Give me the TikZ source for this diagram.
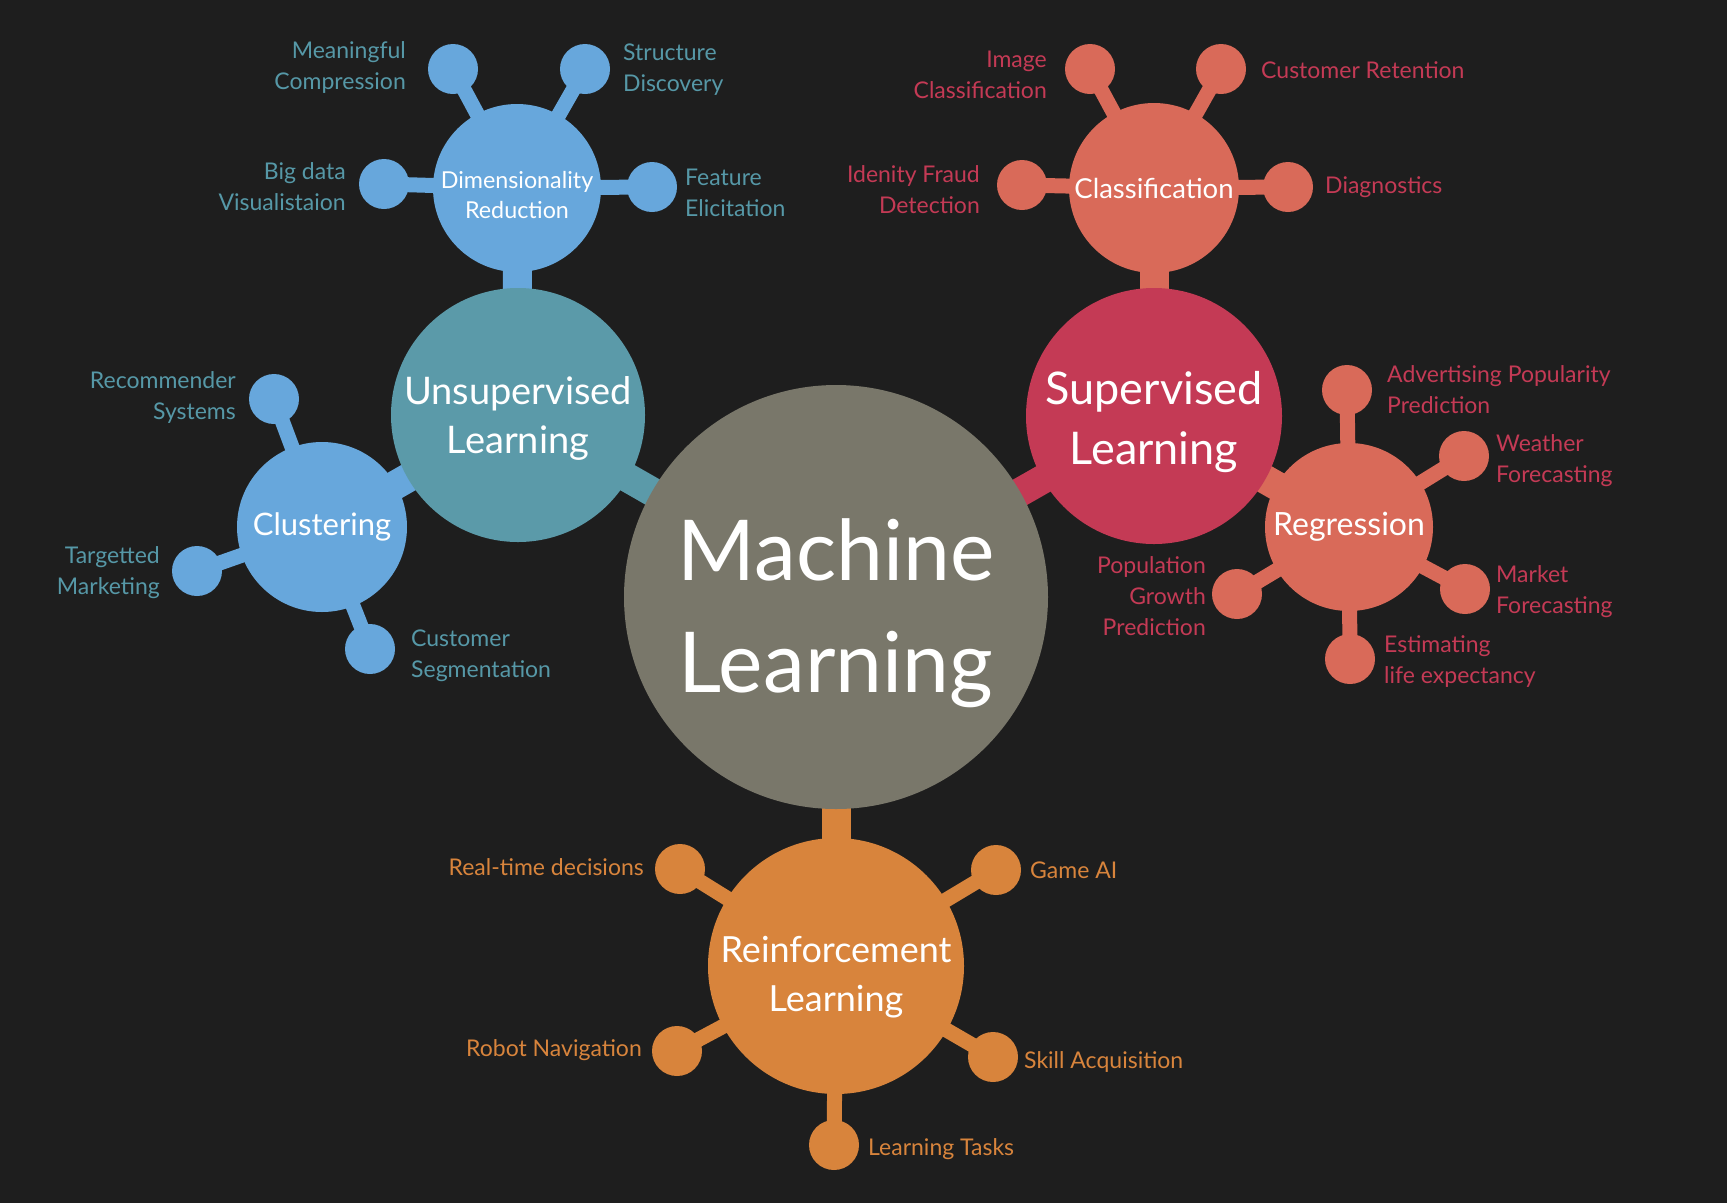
\documentclass[tikz,border=0pt]{standalone}
\usepackage{fontspec}
\setmainfont{Lato}
\pgfdeclarelayer{bglayer}
\pgfdeclarelayer{links}
\pgfsetlayers{bglayer,links,main}
\definecolor{bg}{RGB}{30,30,30}
\definecolor{mlgrey}{RGB}{121,119,106}
\definecolor{ulteal}{RGB}{91,154,169}
\definecolor{lblue}{RGB}{103,167,220}
\definecolor{tealtxt}{RGB}{86,152,167}
\definecolor{crimson}{RGB}{196,58,85}
\definecolor{salmon}{RGB}{217,106,89}
\definecolor{orange}{RGB}{216,132,60}
\tikzset{
  hub/.style={circle, inner sep=0pt, text=white, align=center},
  leaf/.style={circle, minimum size=50pt, inner sep=0pt},
  lbl/.style={inner sep=0pt, font=\fontsize{23}{31}\selectfont},
  lblR/.style={lbl, anchor=east, align=right},
  lblL/.style={lbl, anchor=west, align=left},
  bigstem/.style={line width=29pt},
  stem/.style={line width=15pt},
}
\begin{document}
\begin{tikzpicture}[x=1pt,y=-1pt]
\useasboundingbox (0,0) rectangle (1727,1203);
\begin{pgfonlayer}{bglayer}
\fill[bg] (0,0) rectangle (1727,1203);
\end{pgfonlayer}

% hubs
\node[hub, fill=mlgrey, minimum size=424pt, font=\fontsize{84}{112}\selectfont] (ml) at (836,597) {};
\node[text=white, align=center, inner sep=0pt, font=\fontsize{84}{112}\selectfont] (mlt) at (836,613) {Machine\\Learning};
\node[hub, fill=ulteal, minimum size=254pt] (ul) at (518,415) {};
\node[text=white, align=center, inner sep=0pt, font=\fontsize{38}{49}\selectfont] (ult) at (518,418) {Unsupervised\\Learning};
\node[hub, fill=crimson, minimum size=256pt] (sl) at (1154,416) {};
\node[text=white, align=center, inner sep=0pt, font=\fontsize{45}{59.5}\selectfont] (slt) at (1154,422) {Supervised\\Learning};
\node[hub, fill=orange, minimum size=256pt] (rl) at (836,966) {};
\node[text=white, align=center, inner sep=0pt, font=\fontsize{36}{49}\selectfont] (rlt) at (836,977) {Reinforcement\\Learning};
\node[hub, fill=lblue, minimum size=168pt] (dr) at (517,188) {};
\node[text=white, align=center, inner sep=0pt, font=\fontsize{23.3}{30}\selectfont] (drt) at (517,195) {Dimensionality\\Reduction};
\node[hub, fill=salmon, minimum size=170pt, font=\fontsize{27.5}{30}\selectfont] (cl) at (1154,188) {Classification};
\node[hub, fill=lblue, minimum size=170pt, font=\fontsize{31}{30}\selectfont] (cu) at (322,527) {Clustering};
\node[hub, fill=salmon, minimum size=168pt, font=\fontsize{32}{30}\selectfont] (rg) at (1349,527) {Regression};

% leaves: dimensionality reduction
\node[leaf, fill=lblue] (dr1) at (453,69) {};
\node[leaf, fill=lblue] (dr2) at (585,69) {};
\node[leaf, fill=lblue] (dr3) at (384,184) {};
\node[leaf, fill=lblue] (dr4) at (652,187) {};
% classification
\node[leaf, fill=salmon] (cl1) at (1090,69) {};
\node[leaf, fill=salmon] (cl2) at (1221,69) {};
\node[leaf, fill=salmon] (cl3) at (1022,185) {};
\node[leaf, fill=salmon] (cl4) at (1288,187) {};
% clustering
\node[leaf, fill=lblue] (cu1) at (274,399) {};
\node[leaf, fill=lblue] (cu2) at (197,571) {};
\node[leaf, fill=lblue] (cu3) at (370,649) {};
% regression
\node[leaf, fill=salmon] (rg1) at (1347,390) {};
\node[leaf, fill=salmon] (rg2) at (1464,456) {};
\node[leaf, fill=salmon] (rg3) at (1465,589) {};
\node[leaf, fill=salmon] (rg4) at (1350,659) {};
\node[leaf, fill=salmon] (rg5) at (1237,594) {};
% reinforcement
\node[leaf, fill=orange] (rl1) at (680,869) {};
\node[leaf, fill=orange] (rl2) at (996,870) {};
\node[leaf, fill=orange] (rl3) at (677,1051) {};
\node[leaf, fill=orange] (rl4) at (993,1057) {};
\node[leaf, fill=orange] (rl5) at (834,1145) {};

% labels
\node[lblR, text=tealtxt] (t-dr1) at (406,67) {Meaningful\\Compression};
\node[lblL, text=tealtxt] (t-dr2) at (623,70) {Structure\\Discovery};
\node[lblR, text=tealtxt] (t-dr3) at (346,187) {Big data\\Visualistaion};
\node[lblL, text=tealtxt] (t-dr4) at (685,193) {Feature\\Elicitation};

\node[lblR, text=crimson] (t-cl1) at (1047,75) {Image\\Classification};
\node[lblL, text=crimson] (t-cl2) at (1261,70) {Customer Retention};
\node[lblR, text=crimson] (t-cl3) at (980,190) {Idenity Fraud\\Detection};
\node[lblL, text=crimson] (t-cl4) at (1325,187) {Diagnostics};

\node[lblR, text=tealtxt] (t-cu1) at (236,397) {Recommender\\Systems};
\node[lblR, text=tealtxt] (t-cu2) at (160,573) {Targetted\\Marketing};
\node[lblL, text=tealtxt] (t-cu3) at (411,656) {Customer\\Segmentation};

\node[lblL, text=crimson] (t-rg1) at (1387,390) {Advertising Popularity\\Prediction};
\node[lblL, text=crimson] (t-rg2) at (1496,461) {Weather\\Forecasting};
\node[lblL, text=crimson] (t-rg3) at (1496,592) {Market\\Forecasting};
\node[lblL, text=crimson] (t-rg4) at (1384,662) {Estimating\\life expectancy};
\node[lblR, text=crimson] (t-rg5) at (1206,596) {Population\\Growth\\Prediction};

\node[lblR, text=orange] (t-rl1) at (644,867) {Real-time decisions};
\node[lblL, text=orange] (t-rl2) at (1030,870) {Game AI};
\node[lblR, text=orange] (t-rl3) at (642,1050) {Robot Navigation};
\node[lblL, text=orange] (t-rl4) at (1024,1062) {Skill Acquisition};
\node[lblL, text=orange] (t-rl5) at (868,1149) {Learning Tasks};

% connectors
\begin{pgfonlayer}{links}
\draw[bigstem, ulteal] (ml.center) -- (ul.center);
\draw[bigstem, crimson] (ml.center) -- (sl.center);
\draw[bigstem, orange] (ml.center) -- (rl.center);
\draw[bigstem, lblue] (ul.center) -- (dr.center);
\draw[bigstem, lblue] (ul.center) -- (cu.center);
\draw[bigstem, salmon] (sl.center) -- (cl.center);
\draw[bigstem, salmon] (sl.center) -- (rg.center);
\foreach \l in {dr1,dr2,dr3,dr4} \draw[stem, lblue] (dr.center) -- (\l.center);
\foreach \l in {cu1,cu2,cu3} \draw[stem, lblue] (cu.center) -- (\l.center);
\foreach \l in {cl1,cl2,cl3,cl4} \draw[stem, salmon] (cl.center) -- (\l.center);
\foreach \l in {rg1,rg2,rg3,rg4,rg5} \draw[stem, salmon] (rg.center) -- (\l.center);
\foreach \l in {rl1,rl2,rl3,rl4,rl5} \draw[stem, orange] (rl.center) -- (\l.center);
\end{pgfonlayer}
\end{tikzpicture}
\end{document}
